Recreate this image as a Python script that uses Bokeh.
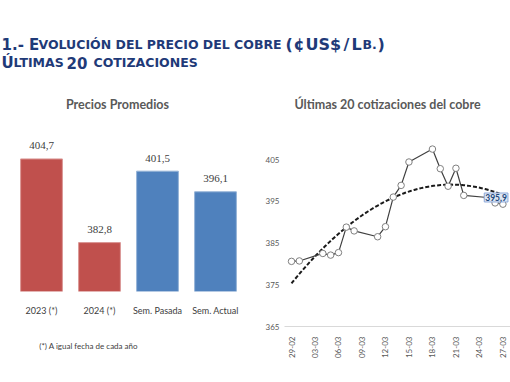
import math
import numpy as np
import pandas as pd
from bokeh.plotting import figure
from bokeh.layouts import column, row
from bokeh.models import Range1d, FactorRange, Label, FixedTicker, DatetimeTickFormatter
from bokeh.embed import file_html
from bokeh.resources import INLINE

# ---------------- data ----------------
BAR_CATS = ["2023 (*)", "2024 (*)", "Sem. Pasada", "Sem. Actual"]
BAR_VALUES = [404.7, 382.8, 401.5, 396.1]
BAR_COLORS = ["#C0504D", "#C0504D", "#4F81BD", "#4F81BD"]
BAR_EDGES = ["#DA9694", "#DA9694", "#95B3D7", "#95B3D7"]

QUOTE_DATES = ["2024-02-29", "2024-03-01", "2024-03-04", "2024-03-05", "2024-03-06",
               "2024-03-07", "2024-03-08", "2024-03-11", "2024-03-12", "2024-03-13",
               "2024-03-14", "2024-03-15", "2024-03-18", "2024-03-19", "2024-03-20",
               "2024-03-21", "2024-03-22", "2024-03-25", "2024-03-26", "2024-03-27"]
QUOTE_VALUES = [380.6, 380.7, 382.5, 382.1, 382.7, 388.8, 387.9, 386.5, 388.9, 396.0,
                398.8, 404.4, 407.5, 402.8, 398.6, 402.9, 396.4, 395.9, 394.6, 394.3]
LABELED_INDEX = 17

X_TICK_DATES = ["2024-02-29", "2024-03-03", "2024-03-06", "2024-03-09", "2024-03-12",
                "2024-03-15", "2024-03-18", "2024-03-21", "2024-03-24", "2024-03-27"]
Y_TICKS = [365, 375, 385, 395, 405]

TITLE_LEFT = "Precios Promedios"
TITLE_RIGHT = "Últimas 20 cotizaciones del cobre"
FOOTNOTE = "(*) A igual fecha de cada año"

FONT = "Lato"
HFONT = "DejaVu Sans"
TXT = "#404040"
NAVY = "#1F3A78"


def fmt(v):
    return f"{v:.1f}".replace(".", ",")


def bare(p):
    p.toolbar.logo = None
    p.outline_line_color = None
    p.xgrid.visible = False
    p.ygrid.visible = False
    p.background_fill_color = "white"
    p.border_fill_color = "white"


def page_fig(w, h):
    f = figure(width=w, height=h, x_range=Range1d(0, w), y_range=Range1d(h, 0),
               output_backend="svg", toolbar_location=None, min_border=0,
               x_axis_type=None, y_axis_type=None)
    bare(f)
    return f


# ---------------- header ----------------
hdr = page_fig(510, 75)
BIG, SMALL, PAREN = "15px", "12.5px", "16px"
segments = [
    ("1.- E", BIG, 1, 44), ("VOLUCIÓN DEL PRECIO DEL COBRE", SMALL, 38, 44),
    ("(", PAREN, 285, 44), ("¢", PAREN, 293, 44), ("US$", PAREN, 305, 44),
    ("/", PAREN, 343, 44), ("L", PAREN, 351, 44), ("B.", SMALL, 362, 44), (")", PAREN, 377, 44),
    ("Ú", BIG, 1, 62), ("LTIMAS", SMALL, 13, 62), ("20", BIG, 66, 62),
    ("COTIZACIONES", SMALL, 93, 62),
]
for txt, size, x, y in segments:
    hdr.add_layout(Label(x=x, y=y, text=txt, text_font=HFONT, text_font_size=size,
                         text_font_style="bold", text_color=NAVY,
                         text_baseline="alphabetic", text_align="left"))

# ---------------- left: bar chart ----------------
Y0 = 370.0
PXU = 3.82
left = figure(width=260, height=255, x_range=FactorRange(*BAR_CATS, range_padding=0),
              y_range=Range1d(Y0, Y0 + 216 / PXU),
              output_backend="svg", toolbar_location=None,
              min_border_left=12, min_border_right=16, min_border_top=0, min_border_bottom=39)
bare(left)
left.yaxis.visible = False
left.xaxis.axis_line_color = None
left.xaxis.major_tick_line_color = None
left.xaxis.minor_tick_line_color = None
left.xaxis.major_label_text_font = FONT
left.xaxis.major_label_text_font_size = "9px"
left.xaxis.major_label_text_color = TXT
left.xaxis.major_label_standoff = 7

left.vbar(x=BAR_CATS, top=BAR_VALUES, bottom=Y0, width=0.72,
          fill_color=BAR_COLORS, line_color=BAR_EDGES, line_width=1)
left.text(x=BAR_CATS, y=BAR_VALUES, text=[fmt(v) for v in BAR_VALUES],
          text_font=FONT, text_font_size="11px", text_color=TXT,
          text_align="center", text_baseline="middle", y_offset=-13)
left.add_layout(Label(x=1.81, y=Y0 + (291 - 104) / PXU, text=TITLE_LEFT,
                      text_font=FONT, text_font_size="12.5px", text_font_style="bold",
                      text_color="#595959", text_align="center", text_baseline="middle"))

foot = page_fig(260, 52)
foot.add_layout(Label(x=30, y=15, text=FOOTNOTE, text_font=FONT, text_font_size="8px",
                      text_color=TXT, text_align="left", text_baseline="middle"))

# ---------------- right: quotes ----------------
dates = pd.to_datetime(QUOTE_DATES)
t0 = dates[0]
DAY = 7.83  # px per day
x_start = t0 - pd.Timedelta(days=7 / DAY)
x_end = t0 + pd.Timedelta(days=(510 - 291) / DAY)
YPX = 4.175
right = figure(width=250, height=307, x_axis_type="datetime",
               x_range=Range1d(x_start, x_end), y_range=Range1d(365, 405 + 84 / YPX),
               output_backend="svg", toolbar_location=None,
               min_border_left=24, min_border_right=0, min_border_top=0, min_border_bottom=56)
bare(right)
right.yaxis.ticker = FixedTicker(ticks=Y_TICKS)
right.yaxis.axis_line_color = None
right.yaxis.major_tick_line_color = None
right.yaxis.minor_tick_line_color = None
right.yaxis.major_label_text_font = FONT
right.yaxis.major_label_text_font_size = "8px"
right.yaxis.major_label_text_color = "#595959"
right.yaxis.major_label_standoff = 5
right.yaxis.major_tick_in = 0
right.yaxis.major_tick_out = 0

tick_ms = [pd.Timestamp(d).value // 10**6 for d in X_TICK_DATES]
right.xaxis.ticker = FixedTicker(ticks=tick_ms)
right.xaxis.formatter = DatetimeTickFormatter(days="%d-%m", months="%d-%m", hours="%d-%m",
                                              hourmin="%d-%m", years="%d-%m", context=None)
right.xaxis.major_label_orientation = math.pi / 2
right.xaxis.axis_line_color = "#D9D9D9"
right.xaxis.major_tick_line_color = None
right.xaxis.minor_tick_line_color = None
right.xaxis.major_label_text_font = FONT
right.xaxis.major_label_text_font_size = "8px"
right.xaxis.major_label_text_color = "#595959"
right.xaxis.major_label_standoff = 4

# polynomial trend (order 2) fitted to the quotes
days = np.array([(d - t0).days for d in dates], dtype=float)
coef = np.polyfit(days, np.array(QUOTE_VALUES), 2)
xs = np.linspace(days[0], days[-1], 120)
trend_x = [t0 + pd.Timedelta(days=float(v)) for v in xs]
right.line(trend_x, np.polyval(coef, xs), line_color="#1A1A1A", line_width=2,
           line_dash="4 2")
right.line(dates, QUOTE_VALUES, line_color="#404040", line_width=1.2)
right.scatter(dates, QUOTE_VALUES, marker="circle", size=6.5, fill_color="white",
              line_color="#808080", line_width=1)

right.add_layout(Label(x=dates[LABELED_INDEX], y=QUOTE_VALUES[LABELED_INDEX],
                       text=fmt(QUOTE_VALUES[LABELED_INDEX]), x_offset=-3,
                       text_font=FONT, text_font_size="8.5px", text_font_style="bold",
                       text_color="#1F497D", text_align="left", text_baseline="middle",
                       background_fill_color="#DCE6F2", border_line_color="#8EA9DB",
                       padding=1))
right.add_layout(Label(x=t0 + pd.Timedelta(days=(387 - 291) / DAY),
                       y=405 + (159 - 104) / YPX, text=TITLE_RIGHT,
                       text_font=FONT, text_font_size="12.5px", text_font_style="bold",
                       text_color="#595959", text_align="center", text_baseline="middle"))

layout = column(hdr, row(column(left, foot, spacing=0), right, spacing=0), spacing=0)

open("out.html", "w").write(file_html(layout, INLINE))
